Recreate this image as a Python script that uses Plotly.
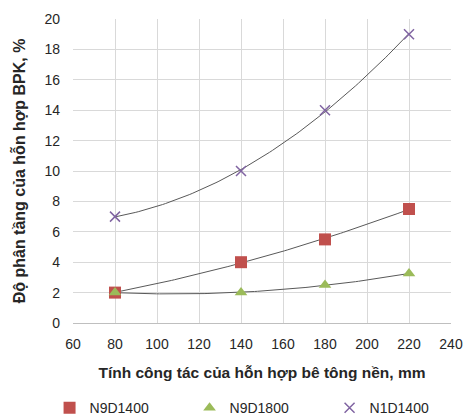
import numpy as np
import plotly.graph_objects as go

x_vals = [80, 140, 180, 220]
n9d1400 = [2.0, 4.0, 5.5, 7.5]
n9d1800 = [2.0, 2.0, 2.5, 3.25]
n1d1400 = [7.0, 10.0, 14.0, 19.0]

series = [
    ("N9D1400", n9d1400, dict(symbol="square", size=12, color="#C0504D")),
    ("N9D1800", n9d1800, dict(symbol="triangle-up", size=11, color="#9BBB59")),
    ("N1D1400", n1d1400, dict(symbol="x-thin-open", size=10, color="#8064A2",
                              line=dict(width=1.5, color="#8064A2"))),
]

fig = go.Figure()
xs = np.linspace(min(x_vals), max(x_vals), 100)
for name, ys, mk in series:
    c = np.polyfit(x_vals, ys, 2)
    fig.add_trace(go.Scatter(x=xs, y=np.polyval(c, xs), mode="lines",
                             line=dict(color="#595959", width=1), showlegend=False,
                             hoverinfo="skip"))
for name, ys, mk in series:
    fig.add_trace(go.Scatter(x=x_vals, y=ys, mode="markers", name=name, marker=mk))

font = "Liberation Sans, Arial, sans-serif"
txt = "#262626"
fig.update_layout(
    width=463, height=416,
    margin=dict(l=73, r=12, t=19, b=93, autoexpand=False),
    paper_bgcolor="white", plot_bgcolor="white",
    font=dict(family=font, size=14, color=txt),
    legend=dict(orientation="h", x=-0.062, xanchor="left", y=-0.28, yanchor="middle",
                font=dict(size=14, color=txt), itemwidth=30,
                entrywidth=95, entrywidthmode="pixels"),
    xaxis=dict(range=[60, 240], dtick=20, showgrid=True, gridcolor="#D9D9D9",
               gridwidth=1, zeroline=False, showline=True, linecolor="#BFBFBF",
               mirror=False, ticks="", ticklabelstandoff=8,
               tickfont=dict(size=14, color=txt), automargin=False,
               title=dict(text="<b>Tính công tác của hỗn hợp bê tông nền, mm</b>",
                          font=dict(size=15.5, color=txt), standoff=16)),
    yaxis=dict(range=[0, 20], dtick=2, showgrid=True, gridcolor="#D9D9D9",
               gridwidth=1, zeroline=False, showline=False, ticks="",
               ticklabelstandoff=12, automargin=False,
               tickfont=dict(size=14, color=txt),
               title=dict(text="<b>Độ phân tầng của hỗn hợp BPK, %</b>",
                          font=dict(size=16, color=txt), standoff=14)),
)
fig.write_html("out.html", config={"displayModeBar": False},
               post_script="document.body.style.margin='0';document.body.style.overflow='hidden';")
